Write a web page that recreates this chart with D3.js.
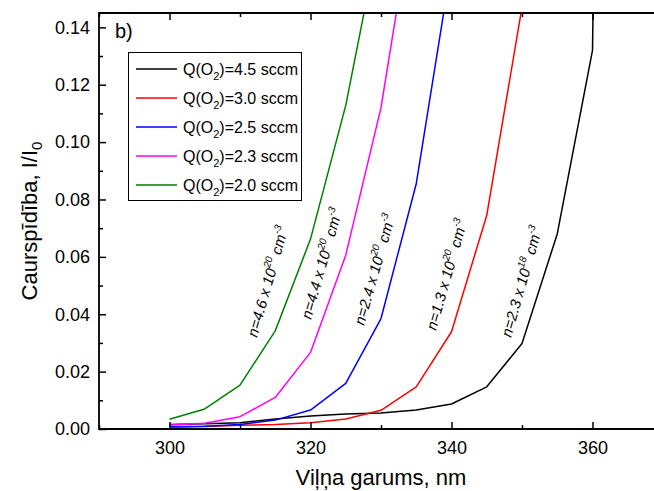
<!DOCTYPE html>
<html>
<head>
<meta charset="utf-8">
<script src="https://cdn.jsdelivr.net/npm/d3@7"></script>
<style>
  body { margin: 0; background: #fff; }
  svg { font-family: "Liberation Sans", Arial, sans-serif; }
</style>
</head>
<body>
<svg id="chart" width="654" height="491"></svg>
<script>
// wavelengths (nm), 5 nm step
var wavelengths = [300, 305, 310, 315, 320, 325, 330, 335, 340, 345, 350, 355, 360, 365];

// transmittance I/I0 per oxygen flow
var t45 = [0.0016, 0.0018, 0.0022, 0.0035, 0.0045, 0.0052, 0.0056, 0.0066, 0.0087, 0.0147, 0.0298, 0.0680, 0.132, 1.0];
var t30 = [0.0006, 0.0009, 0.0013, 0.0016, 0.0022, 0.0035, 0.0065, 0.0147, 0.0339, 0.0745, 0.147];
var t25 = [0.0008, 0.0010, 0.0016, 0.0031, 0.0066, 0.0159, 0.0385, 0.0855, 0.162];
var t23 = [0.0014, 0.0020, 0.0043, 0.0110, 0.0267, 0.0606, 0.1120, 0.188];
var t20 = [0.0034, 0.0070, 0.0153, 0.0342, 0.0662, 0.1128, 0.175];

var seriesNames = ["4.5", "3.0", "2.5", "2.3", "2.0"];
var seriesColors = ["#000000", "#ff0000", "#0000ff", "#ff00ff", "#008000"];
var seriesValues = [t45, t30, t25, t23, t20];

// carrier density labels
var labelMant = ["4.6", "4.4", "2.4", "1.3", "2.3"];
var labelExp = ["20", "20", "20", "20", "18"];
var labelX = [257, 311, 364, 436, 511];
var labelY = [338, 320, 326, 331, 338];

var xTicks = [300, 320, 340, 360];
var yTicks = [0, 0.02, 0.04, 0.06, 0.08, 0.10, 0.12, 0.14];

var svg = d3.select("#chart");
var padL = 99, padT = 13, padR = 663, padB = 429;

var x = d3.scaleLinear().domain([290, 370]).range([padL, padR]);
var y = d3.scaleLinear().domain([0, 0.145]).range([padB, padT]);

svg.append("defs").append("clipPath").attr("id", "plotclip")
	.append("rect").attr("x", padL).attr("y", padT)
	.attr("width", padR - padL).attr("height", padB - padT);

// curves
var line = d3.line()
	.x(function(d) { return x(d[0]); })
	.y(function(d) { return y(d[1]); });

var curves = svg.append("g").attr("clip-path", "url(#plotclip)");
for (var i = 0; i < seriesValues.length; i++) {
	var pts = seriesValues[i].map(function(v, j) { return [wavelengths[j], v]; });
	curves.append("path")
		.datum(pts)
		.attr("d", line)
		.attr("fill", "none")
		.attr("stroke", seriesColors[i])
		.attr("stroke-width", 1.5)
		.attr("stroke-linejoin", "round");
}

// axes: ticks point inward
var minorX = d3.range(290, 371, 10).filter(function(v) { return v % 20 != 0; });
var minorY = d3.range(0.01, 0.145, 0.02);

var axisStyle = function(g) {
	g.select(".domain").remove();
	g.selectAll("line").attr("stroke", "#000").attr("stroke-width", 1.5);
	g.selectAll("text").attr("font-size", 18).attr("fill", "#000");
};

svg.append("g").attr("transform", "translate(0," + padB + ")")
	.call(d3.axisBottom(x).tickValues(xTicks).tickSize(-7).tickPadding(12).tickFormat(d3.format("d")))
	.call(axisStyle);
svg.append("g").attr("transform", "translate(0," + padB + ")")
	.call(d3.axisBottom(x).tickValues(minorX).tickSize(-4).tickFormat(""))
	.call(axisStyle);
svg.append("g").attr("transform", "translate(0," + padT + ")")
	.call(d3.axisTop(x).tickValues(xTicks).tickSize(-7).tickFormat(""))
	.call(axisStyle);
svg.append("g").attr("transform", "translate(0," + padT + ")")
	.call(d3.axisTop(x).tickValues(minorX).tickSize(-4).tickFormat(""))
	.call(axisStyle);
svg.append("g").attr("transform", "translate(" + padL + ",0)")
	.call(d3.axisLeft(y).tickValues(yTicks).tickSize(-7).tickPadding(9).tickFormat(d3.format(".2f")))
	.call(axisStyle);
svg.append("g").attr("transform", "translate(" + padL + ",0)")
	.call(d3.axisLeft(y).tickValues(minorY).tickSize(-4).tickFormat(""))
	.call(axisStyle);

// frame
svg.append("path")
	.attr("d", "M" + padR + "," + padT + "H" + padL + "V" + padB + "H" + padR)
	.attr("fill", "none").attr("stroke", "#000").attr("stroke-width", 1.8);

// axis titles
svg.append("text")
	.attr("x", (padL + padR) / 2).attr("y", 485)
	.attr("text-anchor", "middle").attr("font-size", 22)
	.text("Viļņa garums, nm");

var yt = svg.append("text")
	.attr("transform", "translate(37," + (padT + padB) / 2 + ") rotate(-90)")
	.attr("text-anchor", "middle").attr("font-size", 22);
yt.append("tspan").text("Caurspīdība, I/I");
yt.append("tspan").attr("font-size", 15).attr("dy", 5).text("0");

svg.append("text").attr("x", 115).attr("y", 38).attr("font-size", 20).text("b)");

// legend
var lg = svg.append("g");
lg.append("rect").attr("x", 128.5).attr("y", 52.5).attr("width", 173).attr("height", 148)
	.attr("fill", "#fff").attr("stroke", "#000").attr("stroke-width", 1);
for (var i = 0; i < seriesNames.length; i++) {
	var ly = 69 + i * 29;
	lg.append("line").attr("x1", 136).attr("x2", 177).attr("y1", ly).attr("y2", ly)
		.attr("stroke", seriesColors[i]).attr("stroke-width", 1.5);
	var t = lg.append("text").attr("x", 183).attr("y", ly + 6).attr("font-size", 16);
	t.append("tspan").text("Q(O");
	t.append("tspan").attr("font-size", 11).attr("dy", 5).text("2");
	t.append("tspan").attr("dy", -5).text(")=" + seriesNames[i] + " sccm");
}

// carrier density annotations
for (var i = 0; i < labelMant.length; i++) {
	var a = svg.append("text")
		.attr("transform", "translate(" + labelX[i] + "," + labelY[i] + ") rotate(-74)")
		.attr("font-size", 15).attr("font-style", "italic");
	a.append("tspan").text("n=" + labelMant[i] + " x 10");
	a.append("tspan").attr("font-size", 10).attr("dy", -7).text(labelExp[i]);
	a.append("tspan").attr("dy", 7).text(" cm");
	a.append("tspan").attr("font-size", 10).attr("dy", -7).text("-3");
}
</script>
</body>
</html>
